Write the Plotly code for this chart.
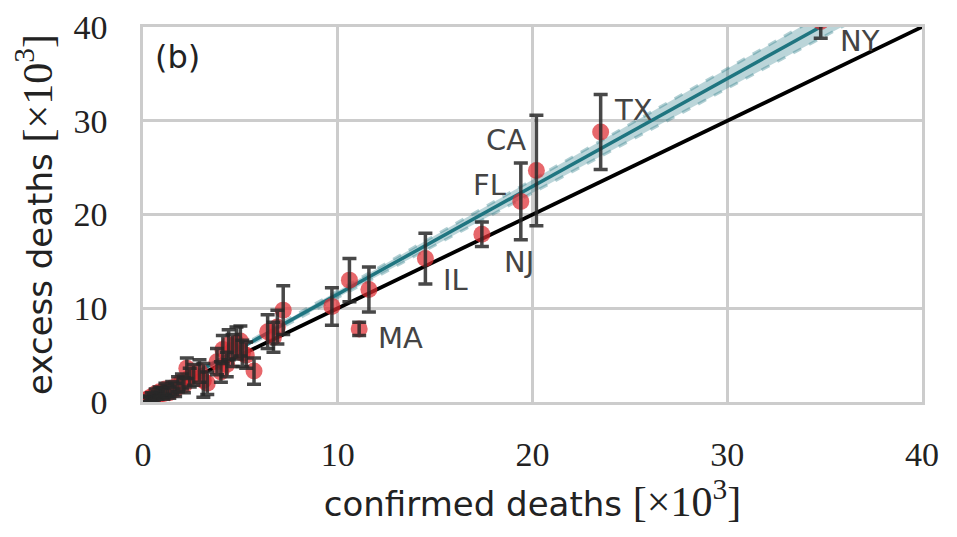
import numpy as np
import plotly.graph_objects as go

# confirmed vs excess deaths per state, in thousands
confirmed = [0.15, 0.25, 0.35, 0.45, 0.55, 0.65, 0.75, 0.85, 0.95, 1.05, 1.15, 1.25, 1.35,
             1.5, 1.65, 1.8, 2.0, 2.1, 2.25, 2.4, 2.6, 2.9, 3.1, 3.3, 3.8, 4.0, 4.1, 4.3,
             4.4, 4.6, 4.8, 5.0, 5.1, 5.3, 5.7, 6.4, 6.7, 6.9, 7.2, 9.7, 10.6, 11.6,
             11.1, 14.5, 17.4, 19.4, 20.2, 23.5, 34.8]
excess = [0.2, 0.35, 0.3, 0.6, 0.5, 0.9, 0.7, 1.1, 1.0, 0.9, 1.4, 1.2, 1.0,
          1.5, 1.3, 1.9, 2.2, 1.8, 3.6, 2.6, 2.9, 3.3, 2.3, 2.0, 4.3, 3.2, 5.6, 4.0,
          6.1, 5.5, 6.3, 6.5, 5.2, 5.0, 3.3, 7.5, 6.9, 8.0, 9.8, 10.2, 13.0, 12.0,
          7.8, 15.3, 17.9, 21.4, 24.7, 28.8, 40.6]
err = [0.3, 0.3, 0.3, 0.4, 0.4, 0.5, 0.4, 0.5, 0.5, 0.6, 0.6, 0.6, 0.6,
       0.7, 0.7, 0.8, 0.8, 0.8, 1.1, 1.0, 1.1, 1.2, 1.8, 1.2, 1.4, 1.1, 1.5, 1.3,
       1.6, 1.7, 1.7, 1.6, 1.4, 1.4, 1.4, 1.8, 1.6, 1.8, 2.6, 2.0, 2.3, 2.4,
       0.7, 2.7, 1.3, 4.1, 5.9, 4.0, 1.8]

labels = ["MA", "IL", "NJ", "FL", "CA", "TX", "NY"]
label_x = [11.95, 15.3, 18.45, 18.75, 19.75, 24.1, 35.7]
label_y = [6.8, 13.0, 14.9, 23.2, 28.0, 31.1, 38.5]
label_anchor = ["left", "left", "left", "right", "right", "left", "left"]

slope = 1.15
slope_lo = 1.115
slope_hi = 1.185
line_x = np.array([0, 40])

teal = "#1f7580"
band = "rgba(31,117,128,0.3)"
fig = go.Figure()

# fit band
fig.add_trace(go.Scatter(x=line_x, y=slope_lo * line_x, mode="lines",
                         line=dict(color="rgba(31,117,128,0.35)", width=3, dash="dash"),
                         showlegend=False))
fig.add_trace(go.Scatter(x=line_x, y=slope_hi * line_x, mode="lines", fill="tonexty",
                         fillcolor=band,
                         line=dict(color="rgba(31,117,128,0.35)", width=3, dash="dash"),
                         showlegend=False))
fig.add_trace(go.Scatter(x=line_x, y=slope * line_x, mode="lines",
                         line=dict(color=teal, width=3.5), showlegend=False))
# y = x
fig.add_trace(go.Scatter(x=line_x, y=line_x, mode="lines",
                         line=dict(color="black", width=3.8), showlegend=False))

# points, then error bars on top
fig.add_trace(go.Scatter(x=confirmed, y=excess, mode="markers",
                         marker=dict(color="rgba(222,45,50,0.72)", size=17, line=dict(width=0)),
                         showlegend=False))
fig.add_trace(go.Scatter(x=confirmed, y=excess, mode="markers",
                         marker=dict(color="rgba(0,0,0,0)", size=1),
                         error_y=dict(type="data", array=err, color="rgba(40,40,40,0.85)",
                                      thickness=3.5, width=7),
                         showlegend=False))

for t, lx, ly, a in zip(labels, label_x, label_y, label_anchor):
    fig.add_annotation(x=lx, y=ly, text=t, showarrow=False, xanchor=a, yanchor="middle",
                       font=dict(family="DejaVu Sans", size=29, color="#444444"))

fig.add_annotation(x=0.013, y=0.975, xref="paper", yref="paper", text="(b)", showarrow=False,
                   xanchor="left", yanchor="top",
                   font=dict(family="DejaVu Sans", size=32, color="#222222"))

axis_common = dict(range=[0, 40], tickvals=[0, 10, 20, 30, 40], showgrid=True,
                   gridcolor="#cccccc", gridwidth=2.5, zeroline=False, showline=True,
                   linecolor="#cccccc", linewidth=2.5, mirror=True, ticks="",
                   automargin=False,
                   tickfont=dict(family="Liberation Serif", size=34, color="#222222"))

unit = "<span style='font-family:Liberation Serif;font-size:42px'>[×10<sup>3</sup>]</span>"
title_font = dict(family="DejaVu Sans", size=34, color="#222222")
fig.update_xaxes(**axis_common, ticklabelstandoff=20,
                 title=dict(text="confirmed deaths " + unit, font=title_font, standoff=8))
fig.update_yaxes(**axis_common, ticklabelstandoff=26,
                 title=dict(text="excess deaths " + unit, font=title_font, standoff=12))

# page body has an 8px margin, so the figure is shifted to land the frame at 143..922 x 27..402
fig.update_layout(width=941, height=521, margin=dict(l=135, r=27, t=19, b=127),
                  plot_bgcolor="white", paper_bgcolor="white")

fig.write_html("out.html")
